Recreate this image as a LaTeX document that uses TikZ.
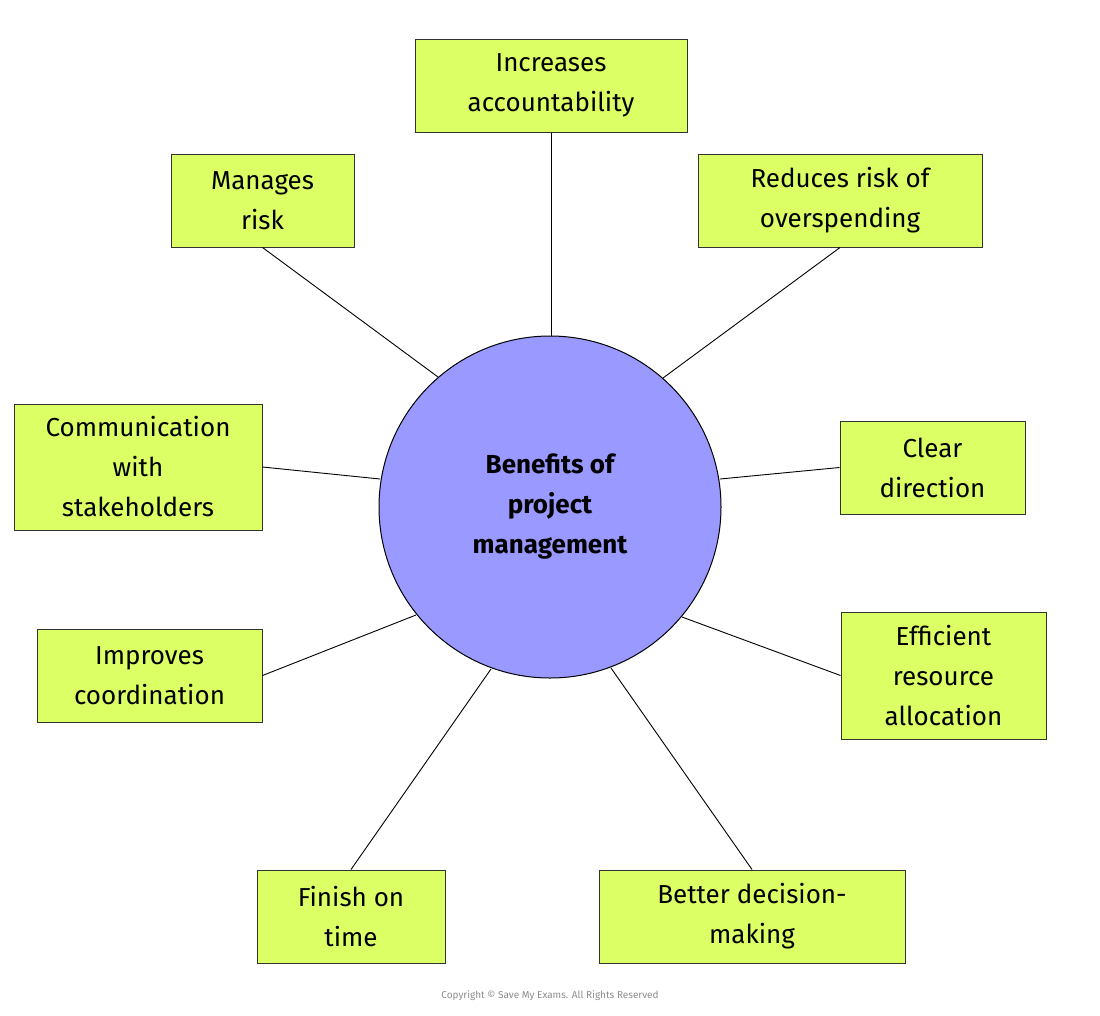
\documentclass[tikz,border=0pt]{standalone}
\usepackage{fontspec}
\setmainfont{Fira Sans}
\definecolor{boxc}{HTML}{DDFF66}
\definecolor{circc}{HTML}{9999FF}
\begin{document}
\begin{tikzpicture}[x=1pt,y=-1pt,
  bx/.style={draw=black!80,fill=boxc,line width=1pt,align=center,inner sep=0pt,font=\fontsize{26}{40}\selectfont},
  ln/.style={black,line width=0.9pt}]
\useasboundingbox (0,0) rectangle (1100,1015);
\node[circle,draw=black,line width=1pt,fill=circc,minimum size=342pt,align=center,font=\fontsize{26}{40}\selectfont\bfseries] (c) at (550,507) {Benefits of\\project\\management};
\newcommand{\mybox}[6]{\node[bx,minimum width={#4-#2},minimum height={#5-#3}] (#1) at ({(#2+#4)/2},{(#3+#5)/2}) {#6};}
\mybox{ia}{415}{39}{687}{132}{Increases\\accountability}
\mybox{mr}{171}{154}{354}{247}{Manages\\risk}
\mybox{rr}{698}{154}{982}{247}{Reduces risk of\\overspending}
\mybox{cw}{14}{404}{262}{530}{Communication\\with\\stakeholders}
\mybox{cd}{840}{421}{1025}{514}{Clear\\direction}
\mybox{ic}{37}{629}{262}{722}{Improves\\coordination}
\mybox{er}{841}{612}{1046}{739}{Efficient\\resource\\allocation}
\mybox{ft}{257}{870}{445}{963}{Finish on\\time}
\mybox{bd}{599}{870}{905}{963}{Better decision-\\making}
\coordinate (p1) at (551,336);
\coordinate (p2) at (438,377);
\coordinate (p3) at (663,378);
\coordinate (p4) at (380,479);
\coordinate (p5) at (720,479);
\coordinate (p6) at (416,615);
\coordinate (p7) at (682,617);
\coordinate (p8) at (491,669);
\coordinate (p9) at (611,668);
\draw[ln] (ia.south) -- (p1);
\draw[ln] (mr.south) -- (p2);
\draw[ln] (rr.south) -- (p3);
\draw[ln] (cw.east) -- (p4);
\draw[ln] (cd.west) -- (p5);
\draw[ln] (ic.east) -- (p6);
\draw[ln] (er.west) -- (p7);
\draw[ln] (ft.north) -- (p8);
\draw[ln] (bd.north) -- (p9);
\node[text=black!45,font=\fontsize{10}{12}\selectfont] (cp) at (550,996) {Copyright © Save My Exams. All Rights Reserved};
\end{tikzpicture}
\end{document}
